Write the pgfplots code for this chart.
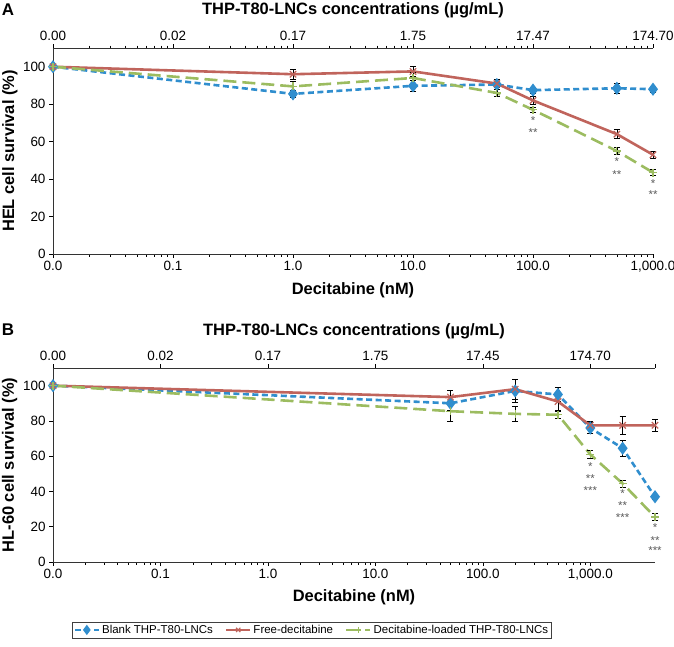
\documentclass[border=0pt]{standalone}
\usepackage{fontspec}
\setmainfont{Liberation Sans}
\usepackage{pgfplots}
\pgfplotsset{compat=1.18}
\pgfkeys{/pgf/number format/assume math mode=true}
\definecolor{cblue}{RGB}{48,142,206}
\definecolor{cred}{RGB}{192,100,92}
\definecolor{cgreen}{RGB}{156,188,96}
\definecolor{cstar}{RGB}{90,90,90}

% x = decitabine (nM), the 0 dose sits at 0.01 on the log axis
\pgfplotstableread{
x y e
0.01 100 1
1 85.5 2
10 89.8 3
50 90.5 2.5
100 87.5 1.5
500 88.5 2.5
1000 88 1.5
}\Ablue
\pgfplotstableread{
x y e
0.01 100 1.5
1 96 2.5
10 97.5 2.5
50 91 2
100 82 2
500 64 2.5
1000 53 2
}\Ared
\pgfplotstableread{
x y e
0.01 100 1
1 89.5 2.5
10 94 3
50 86 2
100 77 1.5
500 55 2
1000 43.5 1.5
}\Agreen
\pgfplotstableread{
x y e
0.01 100 1
50 90 4
200 97 6.5
500 95 4
1000 76 3
2000 64.5 4.5
4000 37 1.5
}\Bblue
\pgfplotstableread{
x y e
0.01 100 1
50 93.5 4
200 98 5.5
500 91 5
1000 77.5 2.5
2000 77.5 5
4000 77.5 3.5
}\Bred
\pgfplotstableread{
x y e
0.01 100 1
50 85.5 5.5
200 84 4
500 83.5 2
1000 61 2.5
2000 44.5 2
4000 25.5 2
}\Bgreen

\tikzset{
  starnode/.style={font=\fontsize{11.5}{11.5}\selectfont, text=cstar, inner sep=0pt,
    text height=3.5bp, text depth=0bp, yshift=-3bp},
  sblue/.style={cblue, line width=2.6bp, dash pattern=on 6bp off 3.5bp,
    mark=diamond*, mark size=4.5bp, mark options={solid, fill=cblue}},
  sred/.style={cred, line width=2.6bp,
    mark=x, mark size=4.5bp, mark options={solid, line width=1.2bp}},
  sgreen/.style={cgreen, line width=2.6bp, dash pattern=on 13bp off 6bp,
    mark=+, mark size=4bp, mark options={solid, line width=1.2bp}},
}
\pgfplotsset{
  scale only axis,
  tick align=outside, major tick length=4bp, minor tick length=2.5bp,
  every tick/.style={black, line width=0.6bp},
  axis line style={black!80, line width=0.8bp},
  ticklabel style={font=\fontsize{13.5}{15}\selectfont},
  label style={font=\bfseries\fontsize{16.5}{18}\selectfont},
}

\begin{document}
\begin{tikzpicture}
\path[use as bounding box] (0,0) rectangle (674bp,-647bp);

% ---------- panel A ----------
\begin{axis}[at={(53bp,-254bp)}, anchor=south west,
  width=600bp, height=206bp,
  xmode=log, xmin=0.01, xmax=1000, ymin=0, ymax=110,
  axis x line*=bottom, axis y line*=left, clip=false,
  ytick={0,20,...,100},
  xtick={0.01,0.1,1,10,100,1000},
  xticklabels={0.0,0.1,1.0,10.0,100.0,{1,000.0}},
  xlabel={Decitabine (nM)},
  xlabel style={at={(axis description cs:0.5,-0.175)}, anchor=center},
  ylabel={HEL cell survival (\%)},
  ylabel style={at={(axis description cs:-0.072,0.5)}, anchor=center},
  error bars/y dir=both, error bars/y explicit,
  error bars/error bar style={solid, black, line width=0.7bp},
  error bars/error mark options={solid, black, mark size=3bp, line width=0.7bp, rotate=90}]
\addplot[sblue] table[x=x,y=y,y error=e] {\Ablue};
\addplot[sred] table[x=x,y=y,y error=e] {\Ared};
\addplot[sgreen] table[x=x,y=y,y error=e] {\Agreen};
\node[starnode] at (axis cs:100,71.7) {*};
\node[starnode] at (axis cs:100,65.2) {**};
\node[starnode] at (axis cs:500,49.9) {*};
\node[starnode] at (axis cs:500,43.0) {**};
\node[starnode] at (axis cs:1000,38.3) {*};
\node[starnode] at (axis cs:1000,32.2) {**};
\end{axis}
\begin{axis}[at={(53bp,-254bp)}, anchor=south west,
  width=600bp, height=206bp,
  xmode=log, xmin=0.01, xmax=1000, ymin=0, ymax=110,
  axis x line*=top, axis y line*=left, y axis line style={draw=none},
  ytick=\empty,
  xtick={0.01,0.1,1,10,100,1000},
  xticklabels={0.00,0.02,0.17,1.75,17.47,174.70},
  xlabel={THP-T80-LNCs concentrations (µg/mL)},
  xlabel style={at={(axis description cs:0.5,1.185)}, anchor=center}]
\addplot[draw=none, mark=none] table[x=x,y=y] {\Ablue};
\end{axis}

% ---------- panel B ----------
\begin{axis}[at={(53bp,-562bp)}, anchor=south west,
  width=602bp, height=194bp,
  xmode=log, xmin=0.01, xmax=4000, ymin=0, ymax=110,
  axis x line*=bottom, axis y line*=left, clip=false,
  ytick={0,20,...,100},
  xtick={0.01,0.1,1,10,100,1000},
  xticklabels={0.0,0.1,1.0,10.0,100.0,{1,000.0}},
  xlabel={Decitabine (nM)},
  xlabel style={at={(axis description cs:0.5,-0.18)}, anchor=center},
  ylabel={HL-60 cell survival (\%)},
  ylabel style={at={(axis description cs:-0.072,0.5)}, anchor=center},
  error bars/y dir=both, error bars/y explicit,
  error bars/error bar style={solid, black, line width=0.7bp},
  error bars/error mark options={solid, black, mark size=3bp, line width=0.7bp, rotate=90},
  legend columns=3,
  legend style={at={(axis description cs:0.43,-0.35)}, anchor=center,
    draw=black!75, line width=0.6bp, font=\fontsize{11.5}{13}\selectfont,
    inner sep=1bp, row sep=0bp,
    /tikz/every even column/.append style={column sep=10bp}},
  legend image code/.code={\draw[mark repeat=2,mark phase=2, mark size=3bp]
    plot coordinates {(0bp,0bp)(12bp,0bp)(24bp,0bp)};}]
\addplot[sblue] table[x=x,y=y,y error=e] {\Bblue};
\addlegendentry{Blank THP-T80-LNCs}
\addplot[sred] table[x=x,y=y,y error=e] {\Bred};
\addlegendentry{Free-decitabine}
\addplot[sgreen] table[x=x,y=y,y error=e] {\Bgreen};
\addlegendentry{Decitabine-loaded THP-T80-LNCs}
\node[starnode] at (axis cs:1000,54.5) {*};
\node[starnode] at (axis cs:1000,47.9) {**};
\node[starnode] at (axis cs:1000,40.9) {***};
\node[starnode] at (axis cs:2000,39) {*};
\node[starnode] at (axis cs:2000,32.4) {**};
\node[starnode] at (axis cs:2000,25.7) {***};
\node[starnode] at (axis cs:4000,20) {*};
\node[starnode] at (axis cs:4000,12.9) {**};
\node[starnode] at (axis cs:4000,6.8) {***};
\end{axis}
\begin{axis}[at={(53bp,-562bp)}, anchor=south west,
  width=602bp, height=194bp,
  xmode=log, xmin=0.01, xmax=4000, ymin=0, ymax=110,
  axis x line*=top, axis y line*=left, y axis line style={draw=none},
  ytick=\empty,
  xtick={0.01,0.1,1,10,100,1000,4000},
  xticklabels={0.00,0.02,0.17,1.75,17.45,174.70,{}},
  xlabel={THP-T80-LNCs concentrations (µg/mL)},
  xlabel style={at={(axis description cs:0.5,1.19)}, anchor=center}]
\addplot[draw=none, mark=none] table[x=x,y=y] {\Bblue};
\end{axis}

\node[font=\bfseries\fontsize{17}{19}\selectfont] at (8bp,-10bp) {A};
\node[font=\bfseries\fontsize{17}{19}\selectfont] at (8bp,-330bp) {B};
\end{tikzpicture}
\end{document}
